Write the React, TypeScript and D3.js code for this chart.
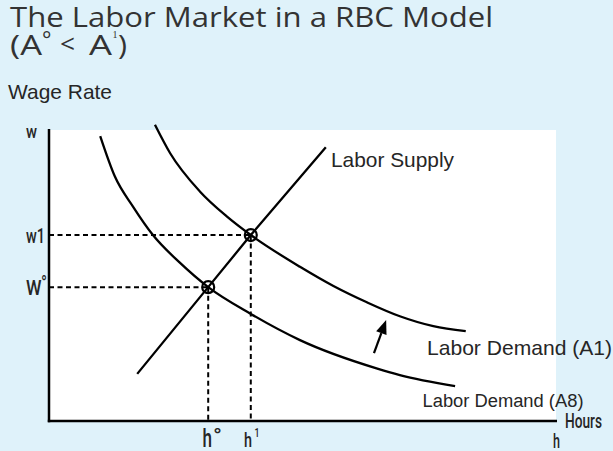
import React from "react";
import * as d3 from "d3";

// hours (0-100) and wage rate (0-100)
const demandA0 = [
  { h: 10.1, w: 97.9 },
  { h: 13.0, w: 84.0 },
  { h: 16.6, w: 73.6 },
  { h: 20.5, w: 63.9 },
  { h: 25.8, w: 54.4 },
  { h: 31.4, w: 46.0 },
  { h: 39.8, w: 36.8 },
  { h: 49.5, w: 27.8 },
  { h: 64.6, w: 18.1 },
  { h: 69.2, w: 15.8 },
  { h: 80.1, w: 12.0 },
];
const demandA1 = [
  { h: 20.9, w: 101.8 },
  { h: 23.9, w: 92.0 },
  { h: 29.8, w: 78.8 },
  { h: 35.0, w: 70.4 },
  { h: 39.8, w: 63.9 },
  { h: 49.5, w: 53.0 },
  { h: 56.1, w: 46.4 },
  { h: 62.7, w: 40.8 },
  { h: 69.2, w: 36.0 },
  { h: 75.8, w: 32.6 },
  { h: 82.2, w: 30.9 },
];
const supply = [
  { h: 17.4, w: 16.2 },
  { h: 31.4, w: 46.0 },
  { h: 39.8, w: 63.9 },
  { h: 54.6, w: 94.1 },
];
const equilibria = [
  { h: 31.4, w: 46.0 },
  { h: 39.8, w: 63.9 },
];
// shift arrow: tail -> tip
const shiftArrow = [
  { h: 64.1, w: 23.3 },
  { h: 66.5, w: 34.7 },
];

const ink = "#000";
const textCol = "#262626";
const condensed = "Roboto, 'Liberation Sans', sans-serif";
const sans = "'Liberation Sans', Arial, sans-serif";

export default function App() {
  const width = 613;
  const height = 451;
  // scales
  const x = d3.scaleLinear().domain([0, 100]).range([49, 556]);
  const y = d3.scaleLinear().domain([0, 100]).range([421, 130]);

  // curve renderer
  const curve = d3
    .line<{ h: number; w: number }>()
    .curve(d3.curveMonotoneX)
    .x((d) => x(d.h))
    .y((d) => y(d.w));
  const straight = d3
    .line<{ h: number; w: number }>()
    .x((d) => x(d.h))
    .y((d) => y(d.w));

  // arrow geometry
  const [t0, t1] = shiftArrow;
  const ax0 = x(t0.h),
    ay0 = y(t0.w),
    ax1 = x(t1.h),
    ay1 = y(t1.w);
  const ang = Math.atan2(ay1 - ay0, ax1 - ax0);
  const headLen = 14,
    headW = 5.5;
  const bx = ax1 - headLen * Math.cos(ang),
    by = ay1 - headLen * Math.sin(ang);
  const head = [
    [ax1, ay1],
    [bx + headW * Math.sin(ang), by - headW * Math.cos(ang)],
    [bx - headW * Math.sin(ang), by + headW * Math.cos(ang)],
  ];

  return (
    <svg
      width={width}
      height={height}
      style={{ position: "absolute", left: 0, top: 0 }}
    >
      <rect width={width} height={height} fill="#DFF2FA" />
      <rect
        x={x(0)}
        y={y(100)}
        width={x(100) - x(0)}
        height={y(0) - y(100)}
        fill="#fff"
      />

      {/* title */}
      <g fill="#333" fontFamily="'Open Sans', 'DejaVu Sans', sans-serif" fontWeight={400}>
        <text x={10} y={27} fontSize={27} textLength={483} lengthAdjust="spacingAndGlyphs">
          The Labor Market in a RBC Model
        </text>
        <text x={10} y={55} fontSize={28} textLength={32} lengthAdjust="spacingAndGlyphs">
          (A
        </text>
        <text x={42} y={47} fontSize={22}>
          °
        </text>
        <text x={60} y={53} fontSize={26} textLength={15} lengthAdjust="spacingAndGlyphs">
          &lt;
        </text>
        <text x={89} y={55} fontSize={28} textLength={23} lengthAdjust="spacingAndGlyphs">
          A
        </text>
        <text x={112.5} y={37.5} fontSize={10} fontFamily="'Liberation Serif', serif">
          1
        </text>
        <text x={118} y={55} fontSize={28} textLength={9} lengthAdjust="spacingAndGlyphs">
          )
        </text>
      </g>
      <text x={8} y={99} fontSize={21} fontFamily={sans} fill={textCol} textLength={104} lengthAdjust="spacingAndGlyphs">
        Wage Rate
      </text>

      {/* dashed guides */}
      {equilibria.map((e, i) => (
        <g key={i} stroke={ink} strokeWidth={2} strokeDasharray="5 3.5">
          <line x1={x(0)} x2={x(e.h)} y1={y(e.w)} y2={y(e.w)} />
          <line x1={x(e.h)} x2={x(e.h)} y1={y(e.w)} y2={y(0)} />
        </g>
      ))}

      {/* curves */}
      <path d={curve(demandA0) ?? ""} fill="none" stroke={ink} strokeWidth={2.3} />
      <path d={curve(demandA1) ?? ""} fill="none" stroke={ink} strokeWidth={2.3} />
      <path d={straight(supply) ?? ""} fill="none" stroke={ink} strokeWidth={2.3} />

      {equilibria.map((e, i) => (
        <circle key={i} cx={x(e.h)} cy={y(e.w)} r={6} fill="none" stroke={ink} strokeWidth={2.2} />
      ))}

      {/* shift arrow */}
      <line x1={ax0} y1={ay0} x2={bx} y2={by} stroke={ink} strokeWidth={2.2} />
      <polygon points={head.map((p) => p.join(",")).join(" ")} fill={ink} />

      {/* axes */}
      <line x1={x(0)} x2={x(0)} y1={y(100) - 1} y2={y(0) + 1.2} stroke={ink} strokeWidth={2.5} />
      <line x1={x(0) - 1.2} x2={x(100) + 1} y1={y(0)} y2={y(0)} stroke={ink} strokeWidth={2.5} />

      {/* curve labels */}
      <g fontFamily={sans} fill={textCol}>
        <text x={331} y={166.5} fontSize={21} textLength={123} lengthAdjust="spacingAndGlyphs">
          Labor Supply
        </text>
        <text x={427} y={354.5} fontSize={21} textLength={185} lengthAdjust="spacingAndGlyphs">
          Labor Demand (A1)
        </text>
        <text x={422.5} y={407} fontSize={18} textLength={161} lengthAdjust="spacingAndGlyphs">
          Labor Demand (A8)
        </text>
      </g>

      {/* axis labels */}
      <g fontFamily={condensed} fill={textCol} fontWeight={500}>
        <text x={26} y={138} fontSize={19} textLength={11} lengthAdjust="spacingAndGlyphs">
          w
        </text>
        <text x={26} y={243} fontSize={21} textLength={19} lengthAdjust="spacingAndGlyphs">
          w1
        </text>
        <text x={26} y={295} fontSize={21} textLength={15.5} lengthAdjust="spacingAndGlyphs">
          W
        </text>
        <text x={41} y={290} fontSize={20} textLength={6} lengthAdjust="spacingAndGlyphs" fontWeight={400}>
          °
        </text>
        <text x={202.5} y={446.5} fontSize={25} textLength={9.5} lengthAdjust="spacingAndGlyphs">
          h
        </text>
        <text x={213} y={443} fontSize={20} textLength={9} lengthAdjust="spacingAndGlyphs" fontWeight={400}>
          °
        </text>
        <text x={244} y={446.5} fontSize={21} textLength={8} lengthAdjust="spacingAndGlyphs">
          h
        </text>
        <text x={254.5} y={436.5} fontSize={13} textLength={5} lengthAdjust="spacingAndGlyphs">
          1
        </text>
        <text x={553} y={448} fontSize={21} textLength={7} lengthAdjust="spacingAndGlyphs">
          h
        </text>
        <text x={565} y={428} fontSize={21} textLength={37} lengthAdjust="spacingAndGlyphs">
          Hours
        </text>
      </g>
    </svg>
  );
}
